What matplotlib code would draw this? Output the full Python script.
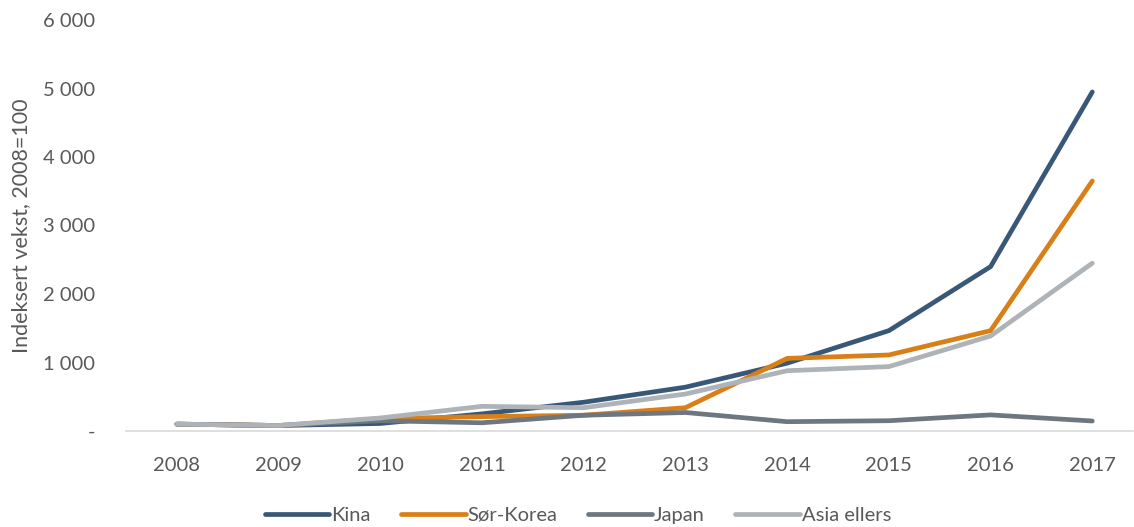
import matplotlib.pyplot as plt
from matplotlib.ticker import FuncFormatter

plt.rcParams['font.family'] = ['Lato', 'DejaVu Sans']

years = ['2008', '2009', '2010', '2011', '2012', '2013', '2014', '2015', '2016', '2017']
kina = [100, 80, 110, 250, 420, 640, 990, 1465, 2400, 4950]
sor_korea = [100, 80, 180, 210, 230, 340, 1060, 1110, 1465, 3650]
japan = [100, 80, 150, 120, 230, 270, 136, 150, 235, 146]
asia_ellers = [100, 80, 190, 360, 340, 540, 880, 940, 1387, 2450]

series = [
    ("Kina", kina, "#395878"),
    ("Sør-Korea", sor_korea, "#D97F18"),
    ("Japan", japan, "#6E7780"),
    ("Asia ellers", asia_ellers, "#AEB3B7"),
]

W, H = 1134, 527
fig = plt.figure(figsize=(W / 100, H / 100), dpi=100)
ax = fig.add_axes([126 / W, 96 / H, (1133 - 126) / W, 411 / H])

x = range(len(years))
for name, vals, col in series:
    ax.plot(x, vals, color=col, linewidth=3.4, label=name, solid_capstyle='round',
            solid_joinstyle='miter')

ax.set_xlim(-0.5, 9.4)
ax.set_ylim(0, 6000)
ax.set_xticks(list(x))
ax.set_xticklabels(years)
ax.set_yticks(range(0, 6001, 1000))


def fmt(v, pos):
    if v == 0:
        return '-'
    return f"{int(v):,}".replace(',', ' ')


ax.yaxis.set_major_formatter(FuncFormatter(fmt))
ax.tick_params(axis='both', length=0, labelsize=14.5, colors='#595959')
ax.tick_params(axis='y', pad=22)
ax.tick_params(axis='x', pad=19)
for s in ['top', 'right', 'left']:
    ax.spines[s].set_visible(False)
ax.spines['bottom'].set_color('#D9D9D9')
ax.spines['bottom'].set_linewidth(1.2)

ax.set_ylabel("Indeksert vekst, 2008=100", fontsize=15.5, color='#595959', labelpad=9)

fig.legend(loc='center', bbox_to_anchor=(578 / W, 1 - 515 / H), ncol=4, frameon=False,
           fontsize=14.5, handlelength=3.2, handletextpad=0.1, columnspacing=1.5,
           labelcolor='#595959')

fig.savefig('out.png', dpi=100)
